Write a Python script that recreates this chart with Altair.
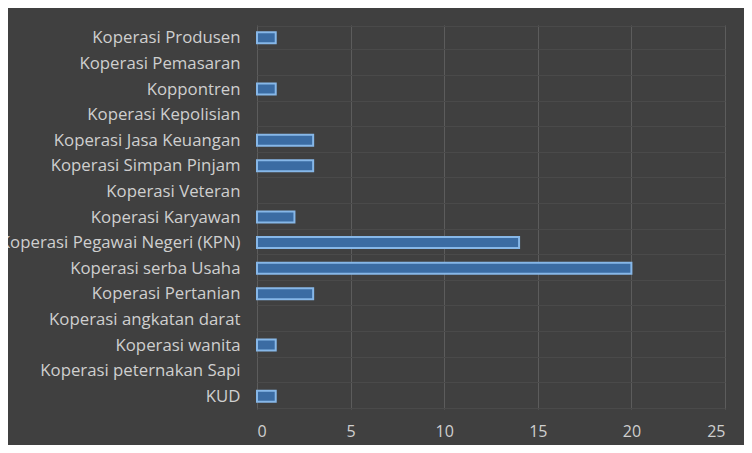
import altair as alt
import pandas as pd

categories = [
    "Koperasi Produsen", "Koperasi Pemasaran", "Koppontren", "Koperasi Kepolisian",
    "Koperasi Jasa Keuangan", "Koperasi Simpan Pinjam", "Koperasi Veteran",
    "Koperasi Karyawan", "Koperasi Pegawai Negeri (KPN)", "Koperasi serba Usaha",
    "Koperasi Pertanian", "Koperasi angkatan darat", "Koperasi wanita",
    "Koperasi peternakan Sapi", "KUD",
]
values = [1, 0, 1, 0, 3, 3, 0, 2, 14, 20, 3, 0, 1, 0, 1]
x_ticks = [0, 5, 10, 15, 20, 25]

df = pd.DataFrame({"kategori": categories, "jumlah": values})

font = "Open Sans"
chart = (
    alt.Chart(df)
    .transform_filter(alt.datum.jumlah > 0)
    .mark_bar(size=11, fill="#3b6ca3", stroke="#86b7e8", strokeWidth=2)
    .encode(
        x=alt.X(
            "jumlah:Q",
            scale=alt.Scale(domain=[0, 25], nice=False),
            axis=alt.Axis(
                values=x_ticks, title=None, domain=False, ticks=False,
                labelColor="#cfcfcf", labelFontSize=16, labelFont=font,
                labelPadding=14, gridColor="#5c5c5c", gridWidth=1,
            ),
        ),
        y=alt.Y(
            "kategori:N",
            sort=categories,
            scale=alt.Scale(domain=categories),
            axis=alt.Axis(
                title=None, domain=False, ticks=False, grid=True,
                tickBand="extent", gridColor="#4a4a4a", gridWidth=1,
                labelColor="#cfcfcf", labelFontSize=16.8, labelFont=font,
                labelPadding=17, labelLimit=400,
            ),
        ),
    )
    .properties(
        width=468,
        height=384,
        background="#404040",
        padding={"left": 249, "top": 17, "right": 19, "bottom": 36},
        autosize=alt.AutoSizeParams(type="none"),
    )
    .configure_view(stroke=None, fill="#404040")
)

chart.save("out.html", embed_options={"renderer": "svg", "actions": False})
